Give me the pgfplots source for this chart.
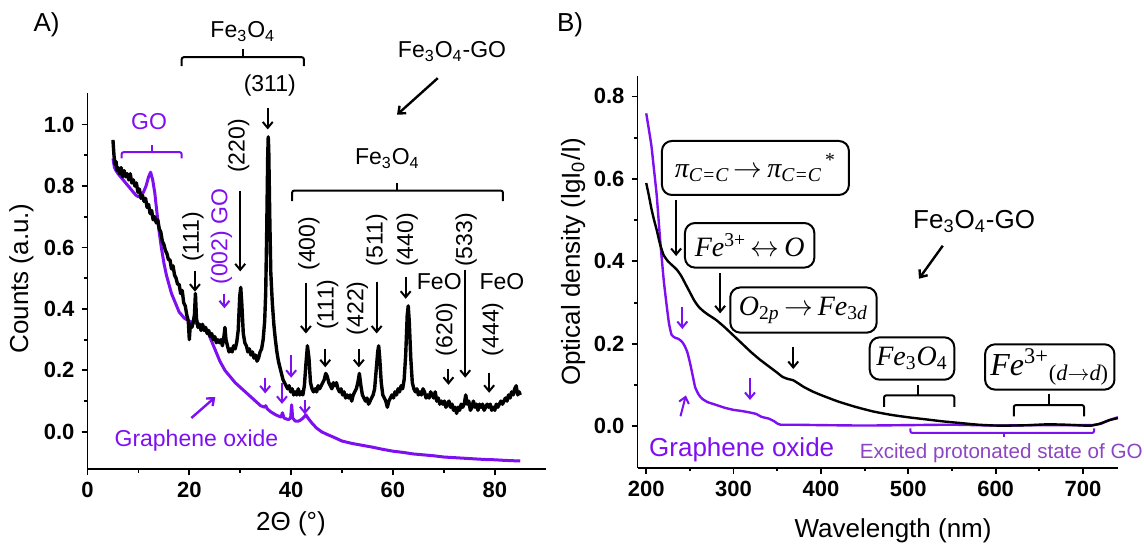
\documentclass[border=0pt]{standalone}
\usepackage{fontspec}
\setmainfont{Liberation Sans}
\newfontfamily\tms{Liberation Serif}
\usepackage{pgfplots}
\pgfplotsset{compat=1.18}
\usetikzlibrary{arrows.meta}

\definecolor{gop}{RGB}{125,15,240}
\definecolor{exc}{RGB}{140,70,195}
\newcommand{\fs}[1]{\fontsize{#1}{#1}\selectfont}
\newcommand{\ti}[1]{{\tms\itshape #1}}
\newcommand{\tu}[1]{{\tms #1}}

\pgfplotsset{panel/.style={
  scale only axis, clip=false,
  axis x line*=bottom, axis y line*=left,
  axis line style={line width=0.9pt, -},
  tick align=outside,
  major tick length=3pt, minor tick length=1.8pt,
  every tick/.style={line width=0.9pt, black},
  tick label style={font=\fs{11}\bfseries},
  /pgf/number format/assume math mode=true,
  yticklabel style={/pgf/number format/fixed, /pgf/number format/fixed zerofill,
    /pgf/number format/precision=1},
  label style={font=\fs{13}},
}}
\tikzset{
  ar/.style={-{Straight Barb[length=3pt,width=5pt]}, line width=1pt},
  br/.style={line width=1pt, rounded corners=1pt},
  bx/.style={draw, line width=1pt, rounded corners=5pt, inner sep=2pt, fill=white},
}

\begin{document}
\begin{tikzpicture}
% ---------------- A) XRD ----------------
\begin{axis}[panel,
  width=229.1pt, height=187.9pt,
  xmin=0, xmax=90, ymin=-0.121, ymax=1.102,
  xtick={0,20,40,60,80}, minor x tick num=1,
  ytick={0,0.2,0.4,0.6,0.8,1.0}, minor y tick num=1,
  xlabel={2Θ (°)}, ylabel={Counts (a.u.)},
  xlabel style={at={(axis description cs:0.444,-0.146)}, anchor=center},
  ylabel style={at={(axis description cs:-0.144,0.507)}, anchor=center},
]
% graphene oxide
\addplot[gop, line width=1.5pt, line join=round] coordinates {
(5.0,0.89) (5.3,0.86) (5.6,0.85) (6.0,0.84) (6.5,0.83) (7.0,0.82) (7.5,0.81)
(8.0,0.80) (8.5,0.79) (9.0,0.78) (9.5,0.77) (10.0,0.765) (10.5,0.77) (11.0,0.78)
(11.5,0.80) (12.0,0.83) (12.4,0.845) (12.8,0.82) (13.2,0.78) (13.6,0.72) (14.0,0.66)
(14.5,0.60) (15.0,0.55) (15.5,0.51) (16.0,0.48) (16.5,0.45) (17.0,0.43) (17.5,0.41)
(18.0,0.39) (18.5,0.38) (19.0,0.37) (19.5,0.365) (20.0,0.36) (21.0,0.355) (22.0,0.35)
(23.0,0.34) (23.5,0.33) (24.0,0.31) (24.5,0.29) (25.0,0.27) (25.5,0.25) (26.0,0.23)
(26.5,0.215) (27.0,0.20) (28.0,0.18) (29.0,0.16) (30.0,0.145) (31.0,0.13) (32.0,0.115)
(33.0,0.10) (34.0,0.085) (34.8,0.08) (35.0,0.085) (35.3,0.075) (36.0,0.065) (37.0,0.055)
(38.0,0.048) (38.3,0.062) (38.6,0.045) (39.0,0.042) (39.5,0.040) (39.9,0.045) (40.1,0.088)
(40.3,0.045) (40.8,0.035) (41.5,0.035) (42.0,0.040) (42.5,0.048) (42.9,0.055) (43.3,0.045)
(44.0,0.030) (45.0,0.012) (46.0,0.0) (47.0,-0.008) (48.0,-0.015) (50.0,-0.030) (52.0,-0.038)
(54.0,-0.044) (56.0,-0.050) (58.0,-0.057) (60.0,-0.063) (62.0,-0.067) (64.0,-0.072)
(66.0,-0.075) (68.0,-0.078) (70.0,-0.082) (72.0,-0.084) (74.0,-0.086) (76.0,-0.088)
(78.0,-0.090) (80.0,-0.091) (82.0,-0.093) (85.0,-0.095)
};
% Fe3O4-GO
\addplot[black, line width=1.7pt, line join=round] coordinates {
(5.0,0.95) (5.2,0.90) (5.4,0.87) (5.6,0.88) (5.8,0.85) (6.0,0.86) (6.3,0.84) (6.6,0.86)
(6.9,0.83) (7.2,0.85) (7.5,0.83) (7.8,0.84) (8.1,0.82) (8.4,0.84) (8.7,0.81) (9.0,0.82)
(9.3,0.80) (9.6,0.81) (9.9,0.78) (10.2,0.79) (10.5,0.76) (10.8,0.77) (11.1,0.75) (11.4,0.76)
(11.7,0.73) (12.0,0.74) (12.3,0.71) (12.6,0.72) (12.9,0.69) (13.2,0.70) (13.5,0.68) (13.8,0.69)
(14.1,0.66) (14.4,0.65) (14.7,0.62) (15.0,0.61) (15.3,0.59) (15.6,0.58) (15.9,0.56) (16.2,0.56)
(16.5,0.53) (16.8,0.54) (17.1,0.51) (17.4,0.50) (17.7,0.48) (18.0,0.48) (18.3,0.45) (18.6,0.46)
(18.9,0.42) (19.2,0.41) (19.5,0.38) (19.8,0.36) (20.0,0.30) (20.2,0.35) (20.5,0.34) (20.8,0.36)
(21.0,0.38) (21.2,0.45) (21.4,0.37) (21.7,0.34) (22.0,0.35) (22.3,0.33) (22.6,0.35) (22.9,0.33)
(23.2,0.34) (23.5,0.32) (23.8,0.33) (24.1,0.31) (24.4,0.32) (24.7,0.30) (25.0,0.31) (25.3,0.29)
(25.6,0.30) (25.9,0.29) (26.2,0.30) (26.5,0.28) (26.8,0.31) (27.0,0.34) (27.2,0.30) (27.5,0.28)
(27.8,0.26) (28.1,0.27) (28.4,0.26) (28.7,0.28) (29.0,0.27) (29.3,0.29) (29.6,0.33) (29.9,0.44)
(30.1,0.47) (30.3,0.42) (30.6,0.32) (30.9,0.29) (31.2,0.28) (31.5,0.26) (31.8,0.27) (32.1,0.25)
(32.4,0.26) (32.7,0.24) (33.0,0.25) (33.3,0.23) (33.6,0.24) (33.9,0.26) (34.2,0.27) (34.5,0.30)
(34.8,0.36) (35.0,0.45) (35.2,0.65) (35.4,0.90) (35.5,0.96) (35.6,0.92) (35.8,0.70) (36.0,0.52)
(36.3,0.42) (36.6,0.35) (36.9,0.30) (37.2,0.26) (37.5,0.23) (37.8,0.21) (38.1,0.19) (38.4,0.17)
(38.7,0.16) (39.0,0.15) (39.3,0.14) (39.6,0.15) (39.9,0.13) (40.2,0.14) (40.5,0.12) (40.8,0.13)
(41.1,0.12) (41.4,0.14) (41.7,0.12) (42.0,0.13) (42.3,0.12) (42.6,0.15) (42.9,0.22) (43.2,0.28)
(43.5,0.24) (43.8,0.16) (44.1,0.14) (44.4,0.13) (44.7,0.14) (45.0,0.13) (45.3,0.15) (45.6,0.14)
(45.9,0.15) (46.2,0.16) (46.5,0.17) (46.8,0.19) (47.1,0.18) (47.4,0.16) (47.7,0.15) (48.0,0.14)
(48.3,0.16) (48.6,0.15) (48.9,0.16) (49.2,0.14) (49.5,0.13) (49.8,0.14) (50.1,0.12) (50.4,0.13)
(50.7,0.11) (51.0,0.12) (51.3,0.11) (51.6,0.12) (51.9,0.10) (52.2,0.12) (52.5,0.13) (52.8,0.14)
(53.1,0.16) (53.4,0.19) (53.7,0.15) (54.0,0.12) (54.3,0.11) (54.6,0.10) (54.9,0.11) (55.2,0.09)
(55.5,0.10) (55.8,0.11) (56.1,0.12) (56.4,0.14) (56.7,0.20) (57.0,0.26) (57.2,0.28) (57.4,0.24)
(57.7,0.16) (58.0,0.12) (58.3,0.11) (58.6,0.10) (58.9,0.08) (59.2,0.10) (59.5,0.11) (59.8,0.12)
(60.1,0.11) (60.4,0.13) (60.7,0.12) (61.0,0.14) (61.3,0.13) (61.6,0.15) (61.9,0.14) (62.2,0.17)
(62.5,0.25) (62.8,0.38) (63.0,0.41) (63.2,0.36) (63.5,0.24) (63.8,0.16) (64.1,0.14) (64.4,0.13)
(64.7,0.14) (65.0,0.12) (65.3,0.13) (65.6,0.12) (65.9,0.14) (66.2,0.13) (66.5,0.11) (66.8,0.12)
(67.1,0.11) (67.4,0.13) (67.7,0.12) (68.0,0.11) (68.3,0.13) (68.6,0.10) (68.9,0.11) (69.2,0.09)
(69.5,0.10) (69.8,0.09) (70.1,0.10) (70.4,0.08) (70.7,0.09) (71.0,0.10) (71.3,0.08) (71.6,0.09)
(71.9,0.07) (72.2,0.08) (72.5,0.06) (72.8,0.08) (73.1,0.07) (73.4,0.09) (73.7,0.08) (74.0,0.09)
(74.3,0.12) (74.6,0.09) (74.9,0.10) (75.2,0.07) (75.5,0.08) (75.8,0.10) (76.1,0.08) (76.4,0.09)
(76.7,0.07) (77.0,0.09) (77.3,0.08) (77.6,0.09) (77.9,0.07) (78.2,0.08) (78.5,0.09) (78.8,0.08)
(79.1,0.09) (79.4,0.07) (79.7,0.08) (80.0,0.07) (80.3,0.09) (80.6,0.08) (80.9,0.09) (81.2,0.10)
(81.5,0.09) (81.8,0.10) (82.1,0.11) (82.4,0.10) (82.7,0.12) (83.0,0.11) (83.3,0.13) (83.6,0.12)
(83.9,0.14) (84.2,0.15) (84.5,0.12) (84.8,0.13) (85.0,0.12)
};
% --- annotations A
\begin{scope}[font=\fs{11.5}]
\node at (axis cs:30.5,1.302) {Fe\textsubscript{3}O\textsubscript{4}};
\draw[br] (axis cs:18.5,1.190) -- (axis cs:18.5,1.219) -- (axis cs:42.5,1.219) -- (axis cs:42.5,1.190);
\draw[line width=1pt] (axis cs:30.5,1.219) -- (axis cs:30.5,1.247);
\node at (axis cs:35.8,1.128) {(311)};
\draw[ar] (axis cs:35.4,1.054) -- (axis cs:35.4,0.984);
\node at (axis cs:71.6,1.238) {Fe\textsubscript{3}O\textsubscript{4}-GO};
\draw[ar, line width=1.2pt] (axis cs:68.8,1.151) -- (axis cs:60.8,1.032);
\node[gop] at (axis cs:12.1,1.009) {GO};
\draw[br, gop] (axis cs:6.7,0.890) -- (axis cs:6.7,0.910) -- (axis cs:18.5,0.910) -- (axis cs:18.5,0.890);
\draw[gop, line width=1pt] (axis cs:12.6,0.910) -- (axis cs:12.6,0.932);
\node[rotate=90] at (axis cs:20.7,0.635) {(111)};
\draw[ar] (axis cs:21.1,0.524) -- (axis cs:21.1,0.456);
\node[rotate=90, gop] at (axis cs:26.3,0.635) {(002) GO};
\draw[ar, gop] (axis cs:26.9,0.448) -- (axis cs:26.9,0.402);
\node[rotate=90] at (axis cs:29.7,0.930) {(220)};
\draw[ar] (axis cs:30.0,0.785) -- (axis cs:30.0,0.522);
\node at (axis cs:58.9,0.890) {Fe\textsubscript{3}O\textsubscript{4}};
\draw[br] (axis cs:40.2,0.751) -- (axis cs:40.2,0.785) -- (axis cs:81.6,0.785) -- (axis cs:81.6,0.751);
\draw[line width=1pt] (axis cs:60.7,0.785) -- (axis cs:60.7,0.811);
\node[rotate=90] at (axis cs:43.5,0.612) {(400)};
\draw[ar] (axis cs:42.9,0.485) -- (axis cs:42.9,0.320);
\node[rotate=90] at (axis cs:47.2,0.414) {(111)};
\draw[ar] (axis cs:46.7,0.270) -- (axis cs:46.7,0.210);
\node[rotate=90] at (axis cs:53.0,0.402) {(422)};
\draw[ar] (axis cs:53.3,0.270) -- (axis cs:53.3,0.210);
\node[rotate=90] at (axis cs:56.8,0.624) {(511)};
\draw[ar] (axis cs:56.8,0.488) -- (axis cs:56.8,0.320);
\node[rotate=90] at (axis cs:62.8,0.624) {(440)};
\draw[ar] (axis cs:62.5,0.505) -- (axis cs:62.5,0.433);
\node at (axis cs:69.1,0.488) {FeO};
\node[rotate=90] at (axis cs:70.5,0.334) {(620)};
\draw[ar] (axis cs:70.9,0.206) -- (axis cs:70.9,0.153);
\node[rotate=90] at (axis cs:74.4,0.624) {(533)};
\draw[ar] (axis cs:74.2,0.527) -- (axis cs:74.2,0.176);
\node at (axis cs:81.4,0.490) {FeO};
\node[rotate=90] at (axis cs:79.6,0.334) {(444)};
\draw[ar] (axis cs:78.9,0.193) -- (axis cs:78.9,0.127);
\draw[ar, gop] (axis cs:34.9,0.176) -- (axis cs:34.9,0.125);
\draw[ar, gop] (axis cs:38.2,0.159) -- (axis cs:38.2,0.091);
\draw[ar, gop] (axis cs:40.0,0.249) -- (axis cs:40.0,0.176);
\draw[ar, gop] (axis cs:42.7,0.102) -- (axis cs:42.7,0.057);
\draw[ar, gop, line width=1.2pt] (axis cs:20.4,0.045) -- (axis cs:25.1,0.113);
\node[gop] at (axis cs:21.4,-0.028) {Graphene oxide};
\end{scope}
\end{axis}

% ---------------- B) UV-Vis ----------------
\begin{axis}[panel, at={(275pt,0.7pt)},
  width=240.2pt, height=195.9pt,
  xmin=190, xmax=740, ymin=-0.10, ymax=0.85,
  xtick={200,300,400,500,600,700}, minor x tick num=1,
  ytick={0,0.2,0.4,0.6,0.8}, minor y tick num=1,
  xlabel={Wavelength (nm)}, ylabel={Optical density (lgI\textsubscript{0}/I)},
  xlabel style={at={(axis description cs:0.532,-0.162)}, anchor=center},
  ylabel style={at={(axis description cs:-0.134,0.525)}, anchor=center},
]
\addplot[gop, line width=1.2pt, smooth, tension=0.3] coordinates {
(200,0.759) (203,0.72) (206,0.679) (209,0.62) (212,0.56) (216,0.45) (220,0.355)
(223,0.30) (226,0.25) (229,0.222) (233,0.215) (237,0.212) (241,0.205) (244,0.195)
(247,0.18) (250,0.155) (253,0.125) (256,0.095) (260,0.077) (264,0.067) (270,0.059)
(280,0.052) (290,0.045) (300,0.040) (310,0.037) (320,0.033) (326,0.030) (332,0.023)
(340,0.019) (346,0.013) (350,0.007) (354,0.004) (370,0.004) (400,0.003) (450,0.002)
(500,0.003) (550,0.004) (600,0.002) (650,0.003) (700,0.003) (710,0.003) (720,0.006)
(730,0.015) (740,0.022)
};
\addplot[black, line width=1.2pt, smooth, tension=0.3] coordinates {
(200,0.59) (203,0.56) (206,0.527) (209,0.50) (212,0.476) (216,0.44) (220,0.415)
(225,0.40) (230,0.39) (235,0.38) (240,0.365) (245,0.345) (250,0.325) (255,0.305)
(260,0.29) (265,0.28) (270,0.272) (280,0.258) (290,0.24) (300,0.22) (310,0.20)
(320,0.18) (330,0.162) (340,0.146) (350,0.13) (356,0.12) (362,0.115) (368,0.112)
(375,0.103) (380,0.096) (390,0.085) (400,0.076) (420,0.06) (440,0.047) (460,0.036)
(480,0.028) (500,0.022) (520,0.017) (540,0.012) (560,0.008) (580,0.004) (600,0.002)
(620,0.002) (640,0.003) (660,0.005) (680,0.004) (700,0.002) (710,0.002) (720,0.007)
(730,0.015) (740,0.020)
};
% --- annotations B
\node[bx, minimum width=93.5pt, minimum height=27pt, font=\fs{14}] at (axis cs:325,0.6265)
  {\ti{π}\textsubscript{\ti{C=C}}\,$\rightarrow$\,\ti{π}\textsubscript{\ti{C=C}}\textsuperscript{\tu{\,*}}};
\draw[ar] (axis cs:234.2,0.548) -- (axis cs:234.2,0.413);
\node[bx, minimum width=64.7pt, minimum height=22.3pt, font=\fs{14}] at (axis cs:318.4,0.439)
  {\ti{Fe}\textsuperscript{\tu{3+}}\,$\leftrightarrow$\,\ti{O}};
\draw[ar] (axis cs:284.6,0.371) -- (axis cs:284.6,0.274);
\node[bx, minimum width=73.2pt, minimum height=22.6pt, font=\fs{14}] at (axis cs:380,0.282)
  {\ti{O}\textsubscript{\tu{2}\ti{p}}\,$\rightarrow$\,\ti{Fe}\textsubscript{\tu{3}\ti{d}}};
\draw[ar] (axis cs:368.3,0.193) -- (axis cs:368.3,0.139);
\node[font=\fs{13}] at (axis cs:575.4,0.497) {Fe\textsubscript{3}O\textsubscript{4}-GO};
\draw[ar, line width=1.2pt] (axis cs:539.5,0.438) -- (axis cs:512.3,0.358);
\node[bx, minimum width=42.3pt, minimum height=21.2pt, font=\fs{14}] at (axis cs:504.3,0.1645)
  {\ti{Fe}\textsubscript{\tu{3}}\ti{O}\textsubscript{\tu{4}}};
\draw[br] (axis cs:472.3,0.047) -- (axis cs:472.3,0.075) -- (axis cs:552.7,0.075) -- (axis cs:552.7,0.047);
\draw[line width=1pt] (axis cs:511.5,0.075) -- (axis cs:511.5,0.10);
\node[bx, minimum width=64.7pt, minimum height=22.3pt, font=\fs{16}] at (axis cs:662,0.144)
  {\ti{Fe}\textsuperscript{\tu{3+}}\textsubscript{\tu{(}\ti{d}$\rightarrow$\ti{d}\tu{)}}};
\draw[br] (axis cs:620.8,0.0245) -- (axis cs:620.8,0.0515) -- (axis cs:701.2,0.0515) -- (axis cs:701.2,0.0245);
\draw[line width=1pt] (axis cs:660.8,0.0515) -- (axis cs:660.8,0.079);
\draw[ar, gop] (axis cs:241.3,0.289) -- (axis cs:241.3,0.236);
\draw[ar, gop] (axis cs:239.2,0.0245) -- (axis cs:245.4,0.075);
\draw[ar, gop] (axis cs:318.8,0.117) -- (axis cs:318.8,0.064);
\node[gop, font=\fs{13}] at (axis cs:309.3,-0.0557) {Graphene oxide};
\draw[br, gop] (axis cs:502.4,-0.005) -- (axis cs:502.4,-0.016) -- (axis cs:712.8,-0.016) -- (axis cs:712.8,-0.005);
\draw[gop, line width=1pt] (axis cs:609.6,-0.016) -- (axis cs:609.6,-0.026);
\node[exc, font=\fs{10.3}] at (axis cs:606.4,-0.064) {Excited protonated state of GO};
\end{axis}

\node[font=\fs{13}] at (-20.5pt,222.3pt) {A)};
\node[font=\fs{13}] at (241.25pt,222.3pt) {B)};
\pgfresetboundingbox
\path[use as bounding box] (-43.75pt,-38.5pt) rectangle (528.25pt,234.5pt);
\end{tikzpicture}
\end{document}
